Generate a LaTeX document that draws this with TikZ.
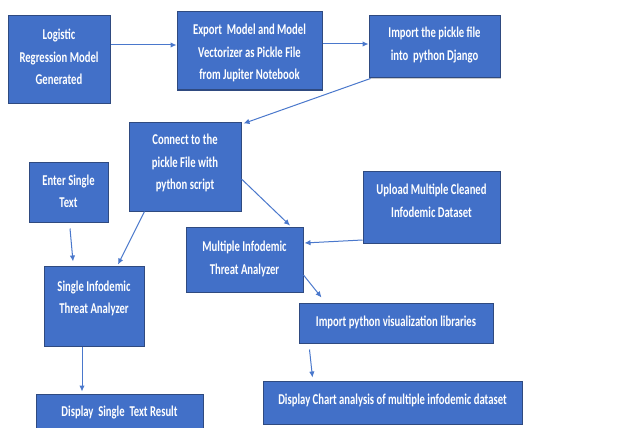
\documentclass[tikz,border=0pt]{standalone}
\usepackage{fontspec}
\setmainfont[FakeStretch=0.71]{Carlito}
\usetikzlibrary{arrows.meta,shadows}
\definecolor{boxfill}{HTML}{4270C8}
\definecolor{boxline}{HTML}{2F4A80}
\definecolor{arrowblue}{HTML}{4A78CC}
\tikzset{
  box/.style={draw=boxline, line width=1pt, fill=boxfill, rectangle, inner sep=0pt,
    drop shadow={shadow xshift=1.2pt, shadow yshift=-1.2pt, fill=black!40, opacity=0.5}},
  txt/.style={text=white, align=center, inner sep=0pt,
    font=\fontsize{15}{22.5}\selectfont\bfseries},
  arr/.style={draw=arrowblue, line width=1pt, -{Latex[length=6pt,width=5.5pt]}}
}
\begin{document}
\begin{tikzpicture}[x=1pt,y=-1pt]
\useasboundingbox (0,0) rectangle (632,428);
\fill[white] (0,0) rectangle (632,428);

% process boxes
\node[box, minimum width=102, minimum height=87] (b1) at (59,59.5) {};
\node[txt] (t1) at (59,57) {Logistic\\Regression Model\\Generated};

\node[box, minimum width=145, minimum height=78] (b2) at (249.5,51) {};
\node[txt] (t2) at (249.5,53) {Export~ Model and Model\\Vectorizer as Pickle File\\from Jupiter Notebook};

\node[box, minimum width=131, minimum height=62] (b3) at (434.5,47) {};
\node[txt] (t3) at (434.5,45) {Import the pickle file\\into~ python Django};

\node[box, minimum width=112, minimum height=89] (b4) at (185,166.5) {};
\node[txt] (t4) at (185,163) {Connect to the\\pickle File with\\python script};

\node[box, minimum width=79, minimum height=60] (b5) at (68.5,192) {};
\node[txt] (t5) at (68.5,191.5) {Enter Single\\Text};

\node[box, minimum width=137, minimum height=72] (b6) at (431.5,207) {};
\node[txt] (t6) at (431.5,201) {Upload Multiple Cleaned\\Infodemic Dataset};

\node[box, minimum width=117, minimum height=65] (b7) at (244.5,259.5) {};
\node[txt] (t7) at (244.5,259) {Multiple Infodemic\\Threat Analyzer};

\node[box, minimum width=100, minimum height=80] (b8) at (94,306) {};
\node[txt] (t8) at (94,298.5) {Single Infodemic\\Threat Analyzer};

\node[box, minimum width=194, minimum height=40] (b9) at (396,323) {};
\node[txt] (t9) at (396,322) {Import python visualization libraries};

\node[box, minimum width=167, minimum height=44] (b10) at (119.5,416) {};
\node[txt] (t10) at (119.5,413) {Display~ Single~ Text Result};

\node[box, minimum width=259, minimum height=43] (b11) at (392.5,402.5) {};
\node[txt] (t11) at (392.5,400) {Display Chart analysis of multiple infodemic dataset};

% connectors
\draw[arr] ([yshift=14.5]b1.east) -- ([yshift=6]b2.west);
\draw[arr] ([yshift=7]b2.east) -- ([yshift=3]b3.west);
\draw[arr] ([xshift=2]b3.south west) -- ([xshift=2,yshift=-2]b4.north east);
\draw[arr] ([xshift=16]b4.south west) -- ([xshift=24,yshift=1]b8.north);
\draw[arr] ([yshift=-12.5]b4.east) -- ([xshift=45.5,yshift=1]b7.north);
\draw[arr] ([xshift=1.5,yshift=-6]b5.south) -- ([xshift=-21,yshift=4]b8.north);
\draw[arr] ([yshift=-33]b6.west) -- ([xshift=1,yshift=16.5]b7.east);
\draw[arr] ([yshift=-15.5]b7.east) -- ([xshift=23,yshift=5]b9.north west);
\draw[arr] ([xshift=-12]b8.south) -- ([xshift=-37.5,yshift=2]b10.north);
\draw[arr] ([xshift=11,yshift=-6]b9.south west) -- ([xshift=50,yshift=3]b11.north west);
\end{tikzpicture}
\end{document}
